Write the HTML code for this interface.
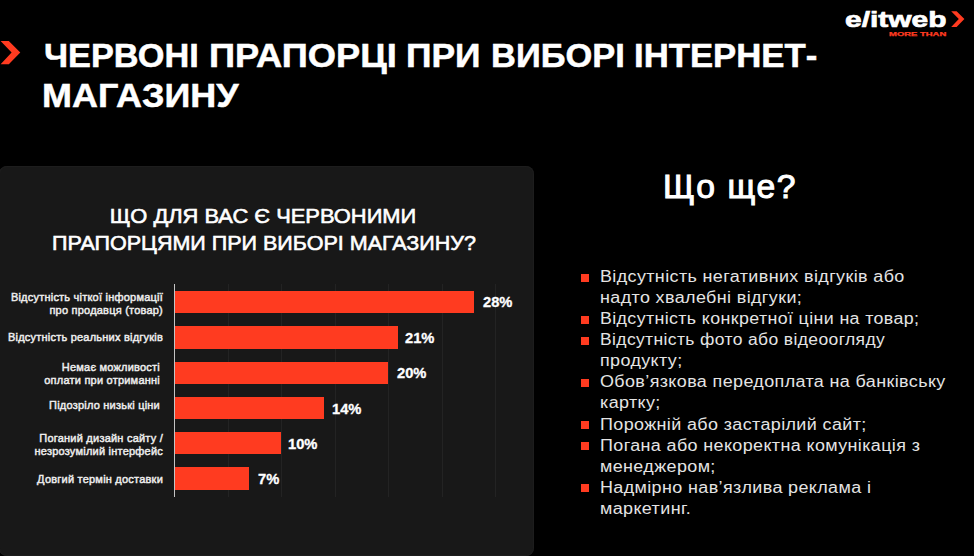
<!DOCTYPE html>
<html><head><meta charset="utf-8">
<style>
html,body{margin:0;padding:0;}
body{width:974px;height:556px;background:#000;position:relative;overflow:hidden;font-family:"Liberation Sans",sans-serif;color:#fff;}
.a{position:absolute;white-space:nowrap;}
.t{display:inline-block;transform-origin:0 0;}
.tw{font-weight:bold;font-size:34px;line-height:40px;-webkit-text-stroke:0.5px #fff;transform-origin:0 0;}
#panel{position:absolute;left:-1.5px;top:166px;width:535.5px;height:390px;background:#181818;border-radius:8px;box-shadow:inset 0 0 0 1px #1d1d1d;}
.grid{position:absolute;top:284px;height:213px;width:1px;background:#232323;}
#axis{position:absolute;left:174px;top:284px;width:1px;height:213px;background:#c4c4c4;}
.bar{position:absolute;left:175px;height:22.6px;background:#ff3b20;}
.lbl{font-size:11px;font-weight:normal;-webkit-text-stroke:0.45px #eee;letter-spacing:0.22px;line-height:13px;text-align:right;color:#eee;transform-origin:100% 0;transform:scaleX(1.0);}
.val{font-size:14px;font-weight:bold;-webkit-text-stroke:0.3px #fff;transform-origin:0 0;transform:scaleX(1.05);}
.ct{font-size:21px;line-height:26.5px;text-align:center;-webkit-text-stroke:0.6px #fff;}
#q{font-size:33px;-webkit-text-stroke:1px #fff;letter-spacing:1.6px;transform-origin:0 0;transform:scaleX(1.02);}
.li{font-size:16px;line-height:21.08px;color:#e4e4e4;letter-spacing:0.35px;transform-origin:0 0;transform:scaleX(1.12);}
.sq{position:absolute;width:8px;height:8px;background:#ff3b20;}
</style></head><body>
<svg class="a" style="left:0;top:0" width="30" height="70"><polygon fill="#ff3b20" points="0.6,41.1 8.8,41.1 20.3,52.6 8.8,64.2 0.6,64.2 11.6,52.6"/></svg>
<div class="a tw" style="left:43.5px;top:34.5px;transform:scaleX(1.0086)">ЧЕРВОНІ</div>
<div class="a tw" style="left:208.7px;top:34.5px;transform:scaleX(1.0663)">ПРАПОРЦІ</div>
<div class="a tw" style="left:406.2px;top:34.5px;transform:scaleX(1.0426)">ПРИ</div>
<div class="a tw" style="left:491.1px;top:34.5px;transform:scaleX(1.0141)">ВИБОРІ</div>
<div class="a tw" style="left:634.4px;top:34.5px;transform:scaleX(1.0216)">ІНТЕРНЕТ-</div>
<div class="a tw" style="left:42.4px;top:74.5px;transform:scaleX(1.0571)">МАГАЗИНУ</div>

<!-- logo -->
<div class="a" id="logo" style="left:845px;top:7px;font-size:22.5px;font-weight:bold;-webkit-text-stroke:0.7px #fff;transform-origin:0 0;transform:scaleX(1.33);">e/itweb</div>
<div class="a" id="more" style="left:889px;top:31px;font-size:5.5px;font-weight:bold;color:#ff3b20;-webkit-text-stroke:0.25px #ff3b20;transform-origin:0 0;transform:scaleX(1.72);">MORE THAN</div>
<svg class="a" style="left:940px;top:0" width="34" height="40"><polygon fill="#ff3b20" points="11.2,11.2 16.6,11.2 24.4,19.1 16.6,27 11.2,27 18.8,19.1"/></svg>

<div id="panel"></div>
<div class="grid" style="left:228px"></div>
<div class="grid" style="left:281px"></div>
<div class="grid" style="left:335px"></div>
<div class="grid" style="left:388px"></div>
<div class="grid" style="left:442px"></div>
<div class="grid" style="left:495px"></div>
<div id="axis"></div>

<div class="a ct" id="ct" style="left:0;width:527px;top:203px;"><span class="t" id="ct1" style="transform-origin:50% 0;transform:scaleX(1.042)">ЩО ДЛЯ ВАС Є ЧЕРВОНИМИ</span><br><span class="t" id="ct2" style="transform-origin:50% 0;transform:scaleX(1.024)">ПРАПОРЦЯМИ ПРИ ВИБОРІ МАГАЗИНУ?</span></div>

<div class="bar" style="top:290.8px;width:298.5px"></div>
<div class="bar" style="top:326.1px;width:223.3px"></div>
<div class="bar" style="top:361.5px;width:213px"></div>
<div class="bar" style="top:396.8px;width:149.2px"></div>
<div class="bar" style="top:431.9px;width:106.3px"></div>
<div class="bar" style="top:467.3px;width:74.2px"></div>

<div class="a lbl" id="l1" style="right:811px;top:291px;">Відсутність чіткої інформації<br>про продавця (товар)</div>
<div class="a lbl" id="l2" style="right:811px;top:331px;">Відсутність реальних відгуків</div>
<div class="a lbl" id="l3" style="right:814px;top:360.5px;">Немає можливості<br>оплати при отриманні</div>
<div class="a lbl" id="l4" style="right:814px;top:398.5px;">Підозріло низькі ціни</div>
<div class="a lbl" id="l5" style="right:811px;top:432px;">Поганий дизайн сайту /<br>незрозумілий інтерфейс</div>
<div class="a lbl" id="l6" style="right:811px;top:473px;">Довгий термін доставки</div>

<div class="a val" id="v1" style="left:483px;top:294px;">28%</div>
<div class="a val" id="v2" style="left:405px;top:329.7px;">21%</div>
<div class="a val" id="v3" style="left:397.2px;top:364.8px;">20%</div>
<div class="a val" id="v4" style="left:332.2px;top:400.6px;">14%</div>
<div class="a val" id="v5" style="left:288.2px;top:435.9px;">10%</div>
<div class="a val" id="v6" style="left:258.2px;top:471.2px;">7%</div>

<div class="a" id="q" style="left:663px;top:168px;">Що ще?</div>

<div class="sq" style="left:581px;top:274px"></div>
<div class="sq" style="left:581px;top:316px"></div>
<div class="sq" style="left:581px;top:337px"></div>
<div class="sq" style="left:581px;top:379px"></div>
<div class="sq" style="left:581px;top:421px"></div>
<div class="sq" style="left:581px;top:442px"></div>
<div class="sq" style="left:581px;top:484px"></div>
<div class="a li" id="list" style="left:600px;top:266px;">Відсутність негативних відгуків або<br>надто хвалебні відгуки;<br><span class="t" style="transform:scaleX(0.993)">Відсутність конкретної ціни на товар;</span><br><span class="t" style="transform:scaleX(0.975)">Відсутність фото або відеоогляду</span><br>продукту;<br>Обов’язкова передоплата на банківську<br>картку;<br>Порожній або застарілий сайт;<br>Погана або некоректна комунікація з<br>менеджером;<br>Надмірно нав’язлива реклама і<br>маркетинг.</div>
</body></html>
